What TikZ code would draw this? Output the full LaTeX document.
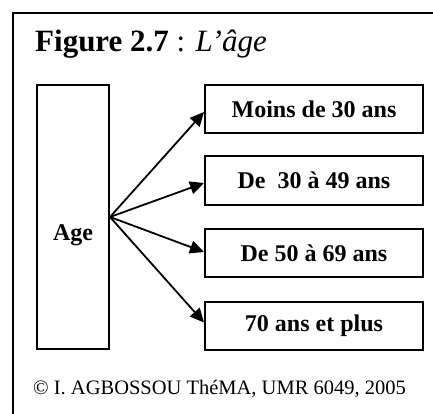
\documentclass[tikz,border=0pt]{standalone}
\usepackage{fontspec}
\setmainfont{Liberation Serif}
\usetikzlibrary{arrows.meta}
\begin{document}
\begin{tikzpicture}[x=1pt,y=-1pt,
  catbox/.style={draw,line width=2pt,minimum width=218pt,minimum height=48pt,inner sep=0pt,
    font=\fontsize{24}{28}\selectfont\bfseries},
  arr/.style={line width=1.8pt,-{Triangle[length=14pt,width=13pt]}}]
\useasboundingbox (0,0) rectangle (433,414);
\draw[line width=2pt] (440,13) -- (13,13) -- (13,420);
\node[anchor=base west,inner sep=0pt,font=\fontsize{31}{37}\selectfont] (title) at (35,52)
  {\textbf{Figure 2.7} : \textit{L’âge}};
\node[draw,line width=2pt,minimum width=72pt,minimum height=264pt,inner sep=0pt] (agebox) at (73,217) {};
\node[anchor=base,inner sep=0pt,font=\fontsize{24}{28}\selectfont\bfseries] (agetxt) at (73,240) {Age};
\node[catbox] (m1) at (314,109) {Moins de 30 ans};
\node[catbox] (m2) at (314,180.5) {De\ \ 30 à 49 ans};
\node[catbox] (m3) at (314,253) {De 50 à 69 ans};
\node[catbox] (m4) at (314,325.5) {70 ans et plus};
\draw[arr] (agebox.east) -- ([yshift=-3pt]m1.west);
\draw[arr] (agebox.east) -- ([yshift=-2.5pt]m2.west);
\draw[arr] (agebox.east) -- ([yshift=1pt]m3.west);
\draw[arr] (agebox.east) -- ([yshift=3pt]m4.west);
\node[anchor=base west,inner sep=0pt,font=\fontsize{20.5}{24}\selectfont] (copy) at (33,394)
  {© I. AGBOSSOU ThéMA, UMR 6049, 2005};
\end{tikzpicture}
\end{document}
